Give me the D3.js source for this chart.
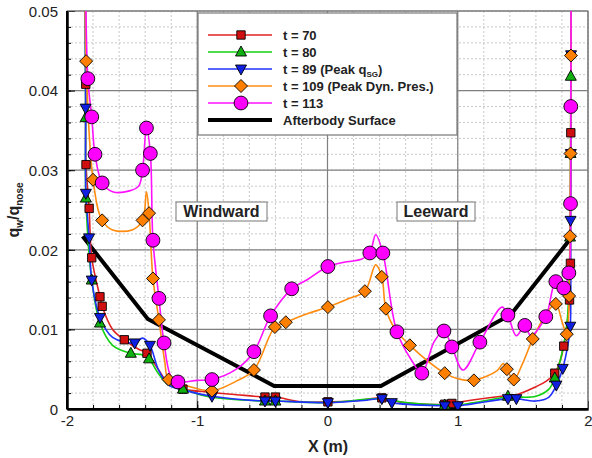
<!DOCTYPE html>
<html>
<head>
<meta charset="utf-8">
<script src="https://cdn.jsdelivr.net/npm/d3@7"></script>
<style>
  body { margin: 0; background: #fff; }
  text { font-family: "Liberation Sans", Arial, sans-serif; }
</style>
</head>
<body>
<svg id="chart" width="592" height="458"></svg>
<script>
// tick labels
const xTicks = [-2, -1, 0, 1, 2];
const xTickLabels = ['-2', '-1', '0', '1', '2'];
const yTicks = [0, 0.01, 0.02, 0.03, 0.04, 0.05];
const yTickLabels = ['0', '0.01', '0.02', '0.03', '0.04', '0.05'];

// afterbody surface profile
const surface = [[-1.88, 0.0217], [-1.38, 0.0113], [-0.41, 0.0029], [0.41, 0.0029], [1.41, 0.0119], [1.88, 0.0217]];

// t = 70
const t70Curve = [[-1.862, 0.06], [-1.856, 0.0408], [-1.854, 0.0307], [-1.83, 0.0252], [-1.81, 0.019], [-1.747, 0.0141],
  [-1.73, 0.0129], [-1.65, 0.0100], [-1.56, 0.0087], [-1.45, 0.0075], [-1.386, 0.0070], [-1.30, 0.0050], [-1.22, 0.0032],
  [-1.11, 0.0025], [-0.9, 0.0021], [-0.7, 0.0018], [-0.48, 0.0015], [-0.40, 0.0015], [-0.2, 0.0009], [0.003, 0.0009],
  [0.2, 0.0010], [0.417, 0.0014], [0.55, 0.0009], [0.75, 0.0006], [0.9, 0.0006], [0.955, 0.0007], [1.1, 0.0011],
  [1.385, 0.0017], [1.45, 0.0018], [1.6, 0.0028], [1.68, 0.0035], [1.745, 0.0045], [1.785, 0.006], [1.814, 0.0079],
  [1.842, 0.011], [1.858, 0.0137], [1.865, 0.0183], [1.868, 0.0347], [1.872, 0.06]];
const t70Marks = [[-1.856, 0.0408], [-1.854, 0.0307], [-1.83, 0.0252], [-1.81, 0.019], [-1.747, 0.0141], [-1.73, 0.0129],
  [-1.56, 0.0087], [-1.386, 0.007], [-1.11, 0.0025], [-0.48, 0.0015], [-0.40, 0.0015], [0.003, 0.0009], [0.417, 0.0014],
  [0.9, 0.0006], [0.955, 0.0007], [1.745, 0.0045], [1.814, 0.0079], [1.858, 0.0137], [1.865, 0.0183], [1.868, 0.0347]];

// t = 80
const t80Curve = [[-1.862, 0.06], [-1.857, 0.0366], [-1.855, 0.0265], [-1.81, 0.0162], [-1.747, 0.0108], [-1.65, 0.0080],
  [-1.51, 0.0070], [-1.42, 0.0068], [-1.37, 0.0063], [-1.30, 0.0045], [-1.22, 0.0030], [-1.11, 0.0025], [-0.9, 0.0015],
  [-0.48, 0.0010], [-0.40, 0.0010], [0.003, 0.0008], [0.417, 0.0013], [0.6, 0.0008], [0.9, 0.0005], [1.0, 0.0005],
  [1.385, 0.0015], [1.45, 0.0015], [1.6, 0.0016], [1.70, 0.0025], [1.745, 0.0039], [1.80, 0.007], [1.84, 0.011],
  [1.862, 0.0216], [1.866, 0.0321], [1.868, 0.0418], [1.872, 0.06]];
const t80Marks = [[-1.857, 0.0366], [-1.855, 0.0265], [-1.81, 0.0162], [-1.747, 0.0108], [-1.51, 0.007], [-1.37, 0.0063],
  [-1.11, 0.0025], [-0.48, 0.001], [-0.40, 0.001], [0.9, 0.0005], [1.385, 0.0016], [1.745, 0.0039], [1.862, 0.0216],
  [1.866, 0.0321], [1.868, 0.0418]];

// t = 89 (Peak qSG)
const t89Curve = [[-1.862, 0.06], [-1.857, 0.0378], [-1.855, 0.0271], [-1.83, 0.0215], [-1.81, 0.0162], [-1.747, 0.0115],
  [-1.65, 0.0090], [-1.48, 0.0083], [-1.42, 0.0089], [-1.363, 0.008], [-1.30, 0.0050], [-1.22, 0.0030], [-1.11, 0.0024],
  [-0.887, 0.0016], [-0.48, 0.0010], [-0.40, 0.0010], [0.003, 0.0008], [0.3, 0.0011], [0.417, 0.0013], [0.494, 0.0008],
  [0.9, 0.0004], [1.0, 0.0004], [1.385, 0.0013], [1.45, 0.0013], [1.6, 0.0010], [1.70, 0.0015], [1.757, 0.003],
  [1.806, 0.0051], [1.85, 0.0085], [1.864, 0.0104], [1.866, 0.0237], [1.868, 0.0321], [1.87, 0.0445], [1.872, 0.06]];
const t89Marks = [[-1.857, 0.0378], [-1.855, 0.0271], [-1.83, 0.0215], [-1.81, 0.0162], [-1.747, 0.0115], [-1.48, 0.0083],
  [-1.363, 0.008], [-0.887, 0.0016], [-0.48, 0.001], [-0.40, 0.001], [0.003, 0.0008], [0.417, 0.0013], [0.494, 0.0008],
  [0.9, 0.0004], [1.0, 0.0004], [1.385, 0.0013], [1.45, 0.0013], [1.757, 0.003], [1.806, 0.0051], [1.864, 0.0104],
  [1.866, 0.0237], [1.868, 0.0321], [1.87, 0.0445]];

// t = 109 (Peak Dyn. Pres.)
const t109Curve = [[-1.86, 0.06], [-1.853, 0.0437], [-1.80, 0.0288], [-1.73, 0.0237], [-1.65, 0.0225], [-1.50, 0.0225],
  [-1.42, 0.0237], [-1.39, 0.0273], [-1.37, 0.0246], [-1.34, 0.0164], [-1.294, 0.0112], [-1.25, 0.006], [-1.22, 0.0037],
  [-1.1, 0.0030], [-0.887, 0.0023], [-0.7, 0.0035], [-0.565, 0.0049], [-0.404, 0.0103], [-0.32, 0.0109], [-0.15, 0.0120],
  [0.003, 0.0128], [0.15, 0.0138], [0.287, 0.0148], [0.37, 0.0181], [0.417, 0.0166], [0.448, 0.0126], [0.52, 0.0100],
  [0.632, 0.0080], [0.9, 0.0045], [1.0, 0.0038], [1.124, 0.0036], [1.3, 0.0048], [1.35, 0.0057], [1.377, 0.005],
  [1.43, 0.0037], [1.5, 0.0058], [1.576, 0.0088], [1.68, 0.0120], [1.753, 0.0132], [1.80, 0.0110], [1.837, 0.0094],
  [1.855, 0.0142], [1.862, 0.0217], [1.866, 0.0321], [1.869, 0.0444], [1.872, 0.06]];
const t109Marks = [[-1.853, 0.0437], [-1.80, 0.0288], [-1.73, 0.0237], [-1.42, 0.0237], [-1.37, 0.0246], [-1.34, 0.0164],
  [-1.294, 0.0112], [-1.22, 0.0037], [-0.887, 0.0023], [-0.565, 0.0049], [-0.404, 0.0103], [-0.32, 0.0109], [0.003, 0.0128],
  [0.287, 0.0148], [0.417, 0.0166], [0.448, 0.0126], [0.632, 0.008], [0.9, 0.0045], [1.124, 0.0036], [1.377, 0.005],
  [1.43, 0.0037], [1.576, 0.0088], [1.753, 0.0132], [1.837, 0.0094], [1.855, 0.0142], [1.862, 0.0217], [1.866, 0.0321],
  [1.869, 0.0444]];

// t = 113
const t113Curve = [[-1.86, 0.06], [-1.84, 0.0415], [-1.81, 0.0367], [-1.785, 0.032], [-1.73, 0.0284], [-1.65, 0.0273],
  [-1.52, 0.0274], [-1.45, 0.028], [-1.42, 0.030], [-1.39, 0.0353], [-1.36, 0.0321], [-1.34, 0.0212], [-1.294, 0.0139],
  [-1.255, 0.0083], [-1.2, 0.0040], [-1.148, 0.0034], [-1.0, 0.0036], [-0.887, 0.0037], [-0.7, 0.0050], [-0.565, 0.0072],
  [-0.437, 0.0117], [-0.275, 0.0151], [-0.15, 0.0163], [0.003, 0.0179], [0.15, 0.0185], [0.26, 0.0188], [0.325, 0.0196],
  [0.37, 0.0219], [0.425, 0.0196], [0.533, 0.0097], [0.65, 0.0060], [0.724, 0.0045], [0.82, 0.0085], [0.894, 0.0098],
  [0.955, 0.0078], [1.04, 0.0049], [1.17, 0.0084], [1.34, 0.0128], [1.385, 0.0118], [1.45, 0.0092], [1.515, 0.0105],
  [1.56, 0.0092], [1.676, 0.0116], [1.753, 0.0160], [1.814, 0.0152], [1.853, 0.0171], [1.866, 0.0258], [1.868, 0.038],
  [1.872, 0.06]];
const t113Marks = [[-1.84, 0.0415], [-1.81, 0.0367], [-1.785, 0.032], [-1.73, 0.0284], [-1.42, 0.030], [-1.39, 0.0353],
  [-1.36, 0.0321], [-1.34, 0.0212], [-1.294, 0.0139], [-1.255, 0.0083], [-1.148, 0.0034], [-0.887, 0.0037],
  [-0.565, 0.0072], [-0.437, 0.0117], [-0.275, 0.0151], [0.003, 0.0179], [0.325, 0.0196], [0.425, 0.0196],
  [0.533, 0.0097], [0.724, 0.0045], [0.894, 0.0098], [0.955, 0.0078], [1.17, 0.0084], [1.385, 0.0118], [1.515, 0.0105],
  [1.676, 0.0116], [1.753, 0.016], [1.814, 0.0152], [1.853, 0.0171], [1.866, 0.0258], [1.868, 0.038]];

const series = [
  { name: 't = 70', curve: t70Curve, marks: t70Marks, line: '#e02020', fill: '#d01010', shape: 'square' },
  { name: 't = 80', curve: t80Curve, marks: t80Marks, line: '#10d010', fill: '#10b010', shape: 'up' },
  { name: 't = 89', curve: t89Curve, marks: t89Marks, line: '#2030ff', fill: '#1020e0', shape: 'down' },
  { name: 't = 109', curve: t109Curve, marks: t109Marks, line: '#ff8c10', fill: '#ff8000', shape: 'diamond' },
  { name: 't = 113', curve: t113Curve, marks: t113Marks, line: '#ff10ff', fill: '#ff00ff', shape: 'circle' }
];

const svg = d3.select('#chart');
const pLeft = 67, pRight = 588, pTop = 11, pBottom = 409;
const x = d3.scaleLinear().domain([-2, 2]).range([pLeft, pRight]);
const y = d3.scaleLinear().domain([0, 0.05]).range([pBottom, pTop]);

// grid
const grid = svg.append('g');
grid.selectAll('.vmin').data(d3.range(-2, 2.001, 0.2)).join('line')
  .attr('x1', d => x(d)).attr('x2', d => x(d)).attr('y1', pTop).attr('y2', pBottom)
  .attr('stroke', '#c8c8c8').attr('stroke-dasharray', '2,2');
grid.selectAll('.hmin').data(d3.range(0, 0.0501, 0.002)).join('line')
  .attr('y1', d => y(d)).attr('y2', d => y(d)).attr('x1', pLeft).attr('x2', pRight)
  .attr('stroke', '#c8c8c8').attr('stroke-dasharray', '2,2');
grid.selectAll('.vmaj').data(xTicks).join('line')
  .attr('x1', d => x(d)).attr('x2', d => x(d)).attr('y1', pTop).attr('y2', pBottom)
  .attr('stroke', '#808080').attr('stroke-width', 1.2);
grid.selectAll('.hmaj').data(yTicks).join('line')
  .attr('y1', d => y(d)).attr('y2', d => y(d)).attr('x1', pLeft).attr('x2', pRight)
  .attr('stroke', '#808080').attr('stroke-width', 1.2);

// axes
const yAxis = d3.axisLeft(y).tickValues(yTicks).tickFormat((d, i) => yTickLabels[i]).tickSizeInner(-8).tickSizeOuter(0).tickPadding(6);
const gy = svg.append('g').attr('transform', `translate(${pLeft},0)`).call(yAxis);
gy.selectAll('text').attr('font-size', 15).attr('fill', '#222').attr('dx', -3).attr('dy', '0.35em');
const yMinor = d3.axisLeft(y).tickValues(d3.range(0, 0.0501, 0.002)).tickFormat('').tickSizeInner(-4).tickSizeOuter(0);
svg.append('g').attr('transform', `translate(${pLeft},0)`).call(yMinor);

const xAxis = d3.axisBottom(x).tickValues(xTicks).tickFormat((d, i) => xTickLabels[i]).tickSizeInner(-8).tickSizeOuter(0).tickPadding(6);
const gx = svg.append('g').attr('transform', `translate(0,${pBottom})`).call(xAxis);
gx.selectAll('text').attr('font-size', 15).attr('fill', '#222');
const xMinor = d3.axisBottom(x).tickValues(d3.range(-2, 2.001, 0.2)).tickFormat('').tickSizeInner(-4).tickSizeOuter(0);
svg.append('g').attr('transform', `translate(0,${pBottom})`).call(xMinor);
svg.selectAll('.domain').attr('stroke', '#000').attr('stroke-width', 2);

svg.append('rect').attr('x', pLeft).attr('y', pTop).attr('width', pRight - pLeft).attr('height', pBottom - pTop)
  .attr('fill', 'none').attr('stroke', '#777').attr('stroke-width', 1);
svg.append('line').attr('x1', pLeft).attr('x2', pLeft).attr('y1', pTop).attr('y2', pBottom).attr('stroke', '#000').attr('stroke-width', 2);
svg.append('line').attr('x1', pLeft).attr('x2', pRight).attr('y1', pBottom).attr('y2', pBottom).attr('stroke', '#000').attr('stroke-width', 2);

// clip
svg.append('clipPath').attr('id', 'clip').append('rect')
  .attr('x', pLeft).attr('y', pTop).attr('width', pRight - pLeft).attr('height', pBottom - pTop);
const plot = svg.append('g').attr('clip-path', 'url(#clip)');

const line = d3.line().x(d => x(d[0])).y(d => y(d[1])).curve(d3.curveCatmullRom.alpha(0.5));

function symbolPath(shape) {
  if (shape === 'square') return d3.symbol(d3.symbolSquare, 70)();
  if (shape === 'up') return 'M0,-6L5.5,4L-5.5,4Z';
  if (shape === 'down') return 'M0,6L5.5,-4L-5.5,-4Z';
  if (shape === 'diamond') return 'M0,-6.5L6.5,0L0,6.5L-6.5,0Z';
  return d3.symbol(d3.symbolCircle, 150)();
}

// black surface line
plot.append('path').datum(surface).attr('d', d3.line().x(d => x(d[0])).y(d => y(d[1])))
  .attr('fill', 'none').attr('stroke', '#000').attr('stroke-width', 4);

series.forEach(s => {
  plot.append('path').datum(s.curve).attr('d', line)
    .attr('fill', 'none').attr('stroke', s.line).attr('stroke-width', 1.6);
});
series.forEach(s => {
  plot.selectAll(null).data(s.marks).join('path')
    .attr('transform', d => `translate(${x(d[0])},${y(d[1])})`)
    .attr('d', symbolPath(s.shape))
    .attr('fill', s.fill).attr('stroke', '#000').attr('stroke-width', 0.9);
});

// legend
const lg = svg.append('g');
lg.append('rect').attr('x', 198).attr('y', 13).attr('width', 259).attr('height', 122)
  .attr('fill', '#fff').attr('stroke', '#777').attr('stroke-width', 1.2);
const legendNames = ['t = 70', 't = 80', 't = 89 (Peak q', 't = 109 (Peak Dyn. Pres.)', 't = 113'];
series.forEach((s, i) => {
  const ly = 35 + i * 17;
  lg.append('line').attr('x1', 208).attr('x2', 272).attr('y1', ly).attr('y2', ly).attr('stroke', s.line).attr('stroke-width', 1.6);
  lg.append('path').attr('transform', `translate(241,${ly})`).attr('d', symbolPath(s.shape))
    .attr('fill', s.fill).attr('stroke', '#000').attr('stroke-width', 0.9);
  const t = lg.append('text').attr('x', 283).attr('y', ly + 5).attr('font-size', 13).attr('font-weight', 'bold').attr('fill', '#222')
    .text(legendNames[i]);
  if (i === 2) {
    t.append('tspan').attr('font-size', 8).attr('dy', 3).text('SG');
    t.append('tspan').attr('dy', -3).text(')');
  }
});
lg.append('line').attr('x1', 208).attr('x2', 272).attr('y1', 120).attr('y2', 120).attr('stroke', '#000').attr('stroke-width', 4);
lg.append('text').attr('x', 283).attr('y', 125).attr('font-size', 13).attr('font-weight', 'bold').attr('fill', '#222')
  .text('Afterbody Surface');

// region labels
[['Windward', 176, 91], ['Leeward', 397, 78]].forEach(([label, bx, bw]) => {
  svg.append('rect').attr('x', bx).attr('y', 202).attr('width', bw).attr('height', 19)
    .attr('fill', '#fff').attr('stroke', '#777').attr('stroke-width', 1);
  svg.append('text').attr('x', bx + bw / 2).attr('y', 217).attr('text-anchor', 'middle')
    .attr('font-size', 16).attr('font-weight', 'bold').attr('fill', '#222').text(label);
});

// axis titles
svg.append('text').attr('x', 328).attr('y', 452).attr('text-anchor', 'middle')
  .attr('font-size', 16).attr('font-weight', 'bold').attr('fill', '#222').text('X (m)');
const yt = svg.append('text').attr('transform', 'translate(19,210) rotate(-90)').attr('text-anchor', 'middle')
  .attr('font-size', 16).attr('font-weight', 'bold').attr('fill', '#222');
yt.append('tspan').text('q');
yt.append('tspan').attr('font-size', 10).attr('dy', 4).text('w');
yt.append('tspan').attr('dy', -4).text('/q');
yt.append('tspan').attr('font-size', 10).attr('dy', 4).text('nose');
</script>
</body>
</html>
